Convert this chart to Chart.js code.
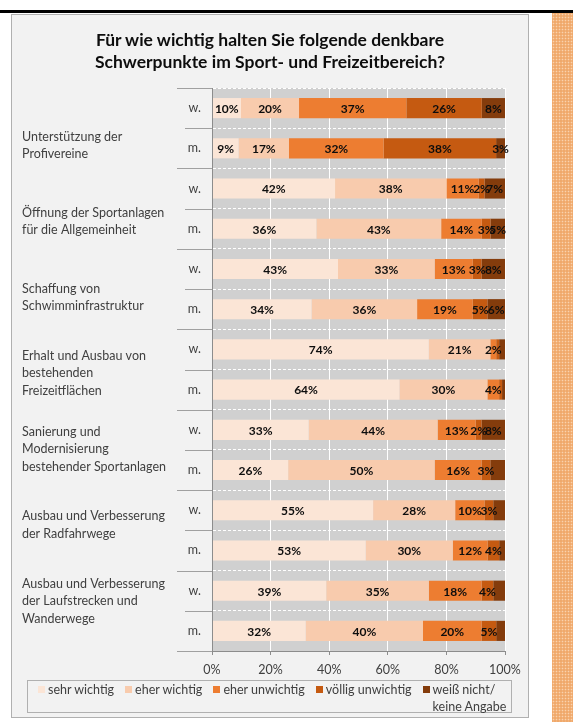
<!DOCTYPE html>
<html lang="de">
<head>
<meta charset="utf-8">
<title>Schwerpunkte im Sport- und Freizeitbereich</title>
<script src="https://cdn.jsdelivr.net/npm/chart.js@4.4.1/dist/chart.umd.min.js"></script>
<style>
    html, body { margin: 0; padding: 0; background: #fff; }
    body { width: 573px; height: 722px; position: relative; overflow: hidden; font-family: Lato, "Open Sans", sans-serif; }
    .top-rule { position: absolute; left: 0; top: 10px; width: 573px; height: 3px; background: #000; }
    .side-strip {
        position: absolute; left: 552px; top: 13px; width: 21px; height: 709px;
        background-color: #f0a96b;
        background-image: radial-gradient(circle, rgba(255, 232, 210, .65) 0.7px, transparent 1.1px);
        background-size: 3px 3px;
    }
    .frame {
        position: absolute; left: 11px; top: 14px; width: 518px; height: 704px;
        box-sizing: border-box; border: 1px solid #b0b0b0; background: #f2f2f2;
    }
    .chart-title {
        position: absolute; left: 0; top: 14px; width: 516px; margin: 0;
        text-align: center; font-size: 17.5px; line-height: 22px; font-weight: bold; color: #0d0d0d;
    }
    #chart { position: absolute; left: 0; top: 0; }
    .legend {
        position: absolute; left: 15px; top: 665px; width: 485px; height: 33px;
        box-sizing: border-box; border: 1px solid #b0b0b0;
        display: flex; align-items: flex-start; padding-left: 10px;
        font-size: 12.5px; line-height: 17px; color: #404040;
    }
    .legend__item { display: flex; align-items: flex-start; margin-right: 11px; flex: none; white-space: nowrap; }
    .legend__box { width: 7px; height: 7px; margin: 5px 3px 0 0; flex: none; }
</style>
</head>
<body>
<div class="top-rule"></div>
<div class="side-strip"></div>
<div class="frame">
    <canvas id="chart" width="516" height="702"></canvas>
    <h1 class="chart-title">Für wie wichtig halten Sie folgende denkbare<br>Schwerpunkte im Sport- und Freizeitbereich?</h1>
    <div class="legend" id="legend"></div>
</div>

<script>
const FONT = 'Lato, "Open Sans", sans-serif';

// ── Daten ──
const categories = ['w.', 'm.', 'w.', 'm.', 'w.', 'm.', 'w.', 'm.', 'w.', 'm.', 'w.', 'm.', 'w.', 'm.'];

const groupNames = [
    ['Unterstützung der', 'Profivereine'],
    ['Öffnung der Sportanlagen', 'für die Allgemeinheit'],
    ['Schaffung von', 'Schwimminfrastruktur'],
    ['Erhalt und Ausbau von', 'bestehenden', 'Freizeitflächen'],
    ['Sanierung und', 'Modernisierung', 'bestehender Sportanlagen'],
    ['Ausbau und Verbesserung', 'der Radfahrwege'],
    ['Ausbau und Verbesserung', 'der Laufstrecken und', 'Wanderwege'],
];

const sehrWichtig      = [10,  9, 42, 36, 43, 34, 74, 64, 33, 26, 55, 53, 39, 32];
const eherWichtig      = [20, 17, 38, 43, 33, 36, 21, 30, 44, 50, 28, 30, 35, 40];
const eherUnwichtig    = [37, 32, 11, 14, 13, 19,  2,  4, 13, 16, 10, 12, 18, 20];
const voelligUnwichtig = [26, 38,  2,  3,  3,  5,  1,  1,  2,  3,  3,  4,  4,  5];
const weissNicht       = [ 8,  3,  7,  5,  8,  6,  2,  1,  8,  5,  4,  2,  4,  3];

const xTicks = [0, 20, 40, 60, 80, 100];

// Beschriftungen, die im Original fehlen (Serie -> Zeilen)
const hiddenLabels = { 3: [6, 7], 4: [6, 7, 9, 10, 11, 12, 13] };

const series = [
    { name: 'sehr wichtig',       color: '#fbe5d6', values: sehrWichtig },
    { name: 'eher wichtig',       color: '#f8cbad', values: eherWichtig },
    { name: 'eher unwichtig',     color: '#ed7d31', values: eherUnwichtig },
    { name: 'völlig unwichtig',   color: '#c55a11', values: voelligUnwichtig },
    { name: 'weiß nicht/\nkeine Angabe', color: '#843c0c', values: weissNicht },
];

// 100%-gestapelt: jede Zeile auf ihre Summe normieren (wie Excel)
const rowTotals = categories.map((_, i) => series.reduce((s, d) => s + d.values[i], 0));

// ── Plugins ──
const plotBackground = {
    id: 'plotBackground',
    beforeDraw(chart) {
        const { ctx, chartArea: a } = chart;
        ctx.save();
        ctx.fillStyle = '#d0d0d0';
        ctx.fillRect(a.left, a.top, a.right - a.left, a.bottom - a.top);
        ctx.restore();
    }
};

const categorySeparators = {
    id: 'categorySeparators',
    afterDraw(chart) {
        const { ctx, chartArea: a } = chart;
        const y = chart.scales.y;
        ctx.save();
        ctx.strokeStyle = '#a0a0a0';
        ctx.lineWidth = 1;
        for (let i = 0; i <= categories.length; i++) {
            const py = Math.round(y.getPixelForValue(i - 0.5)) + 0.5;
            const start = i % 2 === 0 ? a.left - 35 : a.left - 27;
            ctx.beginPath();
            ctx.moveTo(start, py);
            ctx.lineTo(a.left, py);
            ctx.stroke();
        }
        ctx.restore();
    }
};

const barLabels = {
    id: 'barLabels',
    afterDatasetsDraw(chart) {
        const ctx = chart.ctx;
        ctx.save();
        ctx.font = `bold 12px ${FONT}`;
        ctx.fillStyle = '#0d0d0d';
        ctx.textAlign = 'center';
        ctx.textBaseline = 'middle';
        series.forEach((s, i) => {
            const skip = hiddenLabels[i] || [];
            chart.getDatasetMeta(i).data.forEach((bar, j) => {
                if (skip.includes(j)) return;
                ctx.fillText(`${s.values[j]}%`, (bar.x + bar.base) / 2, bar.y + 1);
            });
        });
        ctx.restore();
    }
};

// ── Grafik ──
const axisFont = { family: FONT, size: 12.5 };

new Chart(document.getElementById('chart'), {
    type: 'bar',
    data: {
        labels: categories,
        datasets: series.map(s => ({
            label: s.name,
            data: s.values.map((v, i) => v / rowTotals[i] * 100),
            backgroundColor: s.color,
            borderWidth: 0,
            barPercentage: 1,
            categoryPercentage: 0.5,
        }))
    },
    options: {
        indexAxis: 'y',
        responsive: false,
        animation: false,
        layout: { padding: { left: 10, right: 23, top: 73, bottom: 36 } },
        plugins: {
            legend: { display: false },
            tooltip: { enabled: false },
            title: { display: false }
        },
        scales: {
            x: {
                type: 'linear',
                stacked: true,
                min: 0,
                max: 100,
                afterBuildTicks: s => { s.ticks = xTicks.map(v => ({ value: v })); },
                ticks: { callback: v => `${v}%`, color: '#404040', font: axisFont, padding: 7, maxRotation: 0 },
                grid: { color: '#ffffff', lineWidth: 1, tickColor: '#8c8c8c', tickLength: 4 },
                border: { color: '#8c8c8c', z: 1 },
                afterFit: s => { s.height = 30; }
            },
            y: {
                type: 'category',
                stacked: true,
                weight: 0,
                grid: { color: '#ffffff', offset: true, drawTicks: false },
                border: { color: '#8c8c8c', dash: [3, 2], z: 1 },
                ticks: { color: '#404040', font: axisFont, padding: 11, autoSkip: false },
                afterFit: s => { s.width = 25; }
            },
            groups: {
                type: 'linear',
                position: 'left',
                weight: 10,
                reverse: true,
                offset: false,
                min: -0.757,
                max: 6.659,
                afterBuildTicks: s => { s.ticks = groupNames.map((_, i) => ({ value: i })); },
                ticks: {
                    callback: v => groupNames[v],
                    crossAlign: 'far',
                    color: '#404040',
                    font: { family: FONT, size: 12.5, lineHeight: 1.4 },
                    autoSkip: false,
                    padding: 0
                },
                grid: { display: false, offset: false },
                border: { display: false },
                afterFit: s => { s.width = 165; }
            }
        }
    },
    plugins: [plotBackground, categorySeparators, barLabels]
});

// ── Legende ──
document.getElementById('legend').innerHTML = series.map(s => `
    <div class="legend__item">
        <span class="legend__box" style="background:${s.color}"></span>
        <span>${s.name.replace('\n', '<br>')}</span>
    </div>`).join('');
</script>
</body>
</html>
